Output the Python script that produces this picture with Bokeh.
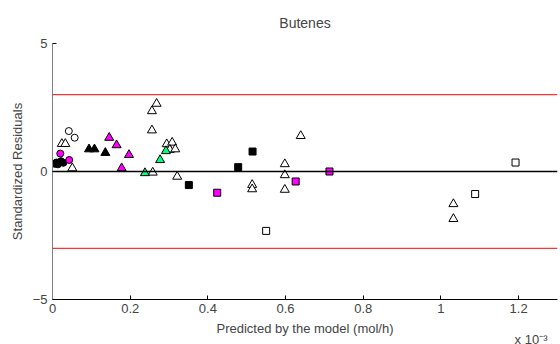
from bokeh.plotting import figure
from bokeh.models import Range1d, Title, FixedTicker, Span
from bokeh.embed import file_html
from bokeh.resources import INLINE

# x values in units of 1e-3 mol/h
open_circ_x = [0.042, 0.057]
open_circ_y = [1.58, 1.32]
black_circ_x = [0.006, 0.010, 0.014, 0.018, 0.022, 0.028]
black_circ_y = [0.30, 0.35, 0.28, 0.36, 0.40, 0.34]
mag_circ_x = [0.020, 0.043]
mag_circ_y = [0.70, 0.45]
black_tri_x = [0.094, 0.108, 0.136]
black_tri_y = [0.87, 0.87, 0.73]
mag_tri_x = [0.146, 0.165, 0.197, 0.178]
mag_tri_y = [1.32, 1.03, 0.65, 0.13]
green_tri_x = [0.238, 0.277, 0.292]
green_tri_y = [-0.06, 0.45, 0.80]
open_tri_x = [0.024, 0.033, 0.051, 0.256, 0.256, 0.268, 0.294, 0.308, 0.302, 0.316,
              0.258, 0.321, 0.514, 0.514, 0.598, 0.598, 0.598, 0.639, 1.032, 1.032]
open_tri_y = [1.08, 1.08, 0.13, 1.61, 2.36, 2.65, 1.07, 1.13, 0.85, 0.87,
              -0.04, -0.20, -0.52, -0.69, 0.29, -0.14, -0.71, 1.39, -1.27, -1.85]
black_sq_x = [0.351, 0.478, 0.515]
black_sq_y = [-0.53, 0.17, 0.78]
mag_sq_x = [0.424, 0.626, 0.713]
mag_sq_y = [-0.83, -0.39, 0.00]
open_sq_x = [0.550, 1.088, 1.192]
open_sq_y = [-2.32, -0.88, 0.35]

x_ticks = [0, 0.2, 0.4, 0.6, 0.8, 1.0, 1.2]
x_tick_labels = ["0", "0.2", "0.4", "0.6", "0.8", "1", "1.2"]
y_ticks = [-5, 0, 5]
limits = [-3, 3]

FONT = "Liberation Sans"

p = figure(width=560, height=344, output_backend="svg", toolbar_location=None,
           x_range=Range1d(0, 1.3), y_range=Range1d(-5, 5),
           min_border_left=52, min_border_right=3, min_border_top=42, min_border_bottom=45,
           title="Butenes")
p.title.align = "center"
p.title.text_font = FONT
p.title.text_font_size = "14px"
p.title.text_font_style = "normal"
p.title.standoff = 25
p.outline_line_color = None
p.xgrid.visible = False
p.ygrid.visible = False
p.background_fill_color = "white"
p.border_fill_color = "white"

for ax in (p.xaxis[0], p.yaxis[0]):
    ax.major_tick_in = 4
    ax.major_tick_out = 0
    ax.minor_tick_line_color = None
    ax.major_label_text_font = FONT
    ax.major_label_text_font_size = "13px"
    ax.axis_label_text_font = FONT
    ax.axis_label_text_font_size = "13px"
    ax.axis_label_text_font_style = "normal"

p.xaxis[0].ticker = FixedTicker(ticks=x_ticks)
p.xaxis[0].major_label_overrides = {t: l for t, l in zip(x_ticks, x_tick_labels)}
p.xaxis[0].axis_line_color = "black"
p.xaxis[0].major_tick_line_color = "black"
p.xaxis[0].axis_label = "Predicted by the model (mol/h)"
p.xaxis[0].major_label_standoff = 4
p.xaxis[0].axis_label_standoff = 5

p.yaxis[0].ticker = FixedTicker(ticks=y_ticks)
p.yaxis[0].axis_line_color = "#808080"
p.yaxis[0].major_tick_line_color = "black"
p.yaxis[0].axis_label = "Standardized Residuals"
p.yaxis[0].major_label_standoff = 5
p.yaxis[0].axis_label_standoff = 5

exp_title = Title(text="x 10\u207b\u00b3", align="right", vertical_align="top",
                  text_font=FONT, text_font_size="13px", text_font_style="normal",
                  standoff=-13, offset=10)
p.add_layout(exp_title, "below")

for lim in limits:
    p.add_layout(Span(location=lim, dimension="width", line_color="red", line_width=1))
p.add_layout(Span(location=0, dimension="width", line_color="black", line_width=1.5))

def tri(x, y, fill):
    p.scatter(x, y, marker="triangle", size=9, fill_color=fill, line_color="black", line_width=1)

def sq(x, y, fill):
    p.scatter(x, y, marker="square", size=7, fill_color=fill, line_color="black", line_width=1)

def circ(x, y, fill):
    p.scatter(x, y, marker="circle", size=7, fill_color=fill, line_color="black", line_width=1)

tri(open_tri_x, open_tri_y, "white")
circ(open_circ_x, open_circ_y, "white")
circ(black_circ_x, black_circ_y, "black")
circ(mag_circ_x, mag_circ_y, "#ff00ff")
tri(black_tri_x, black_tri_y, "black")
tri(mag_tri_x, mag_tri_y, "#ff00ff")
tri(green_tri_x, green_tri_y, "#00ff80")
sq(black_sq_x, black_sq_y, "black")
sq(mag_sq_x, mag_sq_y, "#ff00ff")
sq(open_sq_x, open_sq_y, "white")

open("out.html", "w").write(file_html(p, INLINE))
